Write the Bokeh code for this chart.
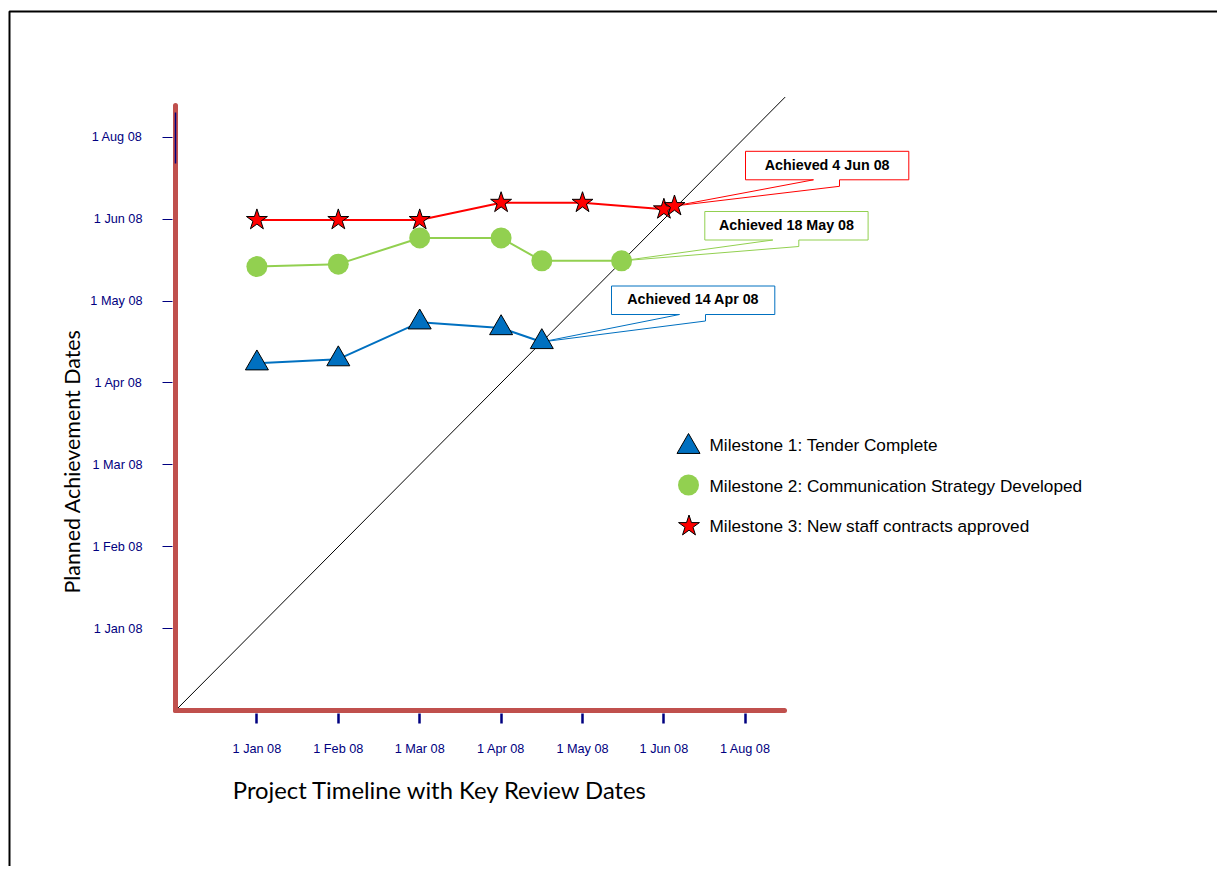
from bokeh.plotting import figure
from bokeh.models import LinearAxis, FixedTicker, Range1d
from bokeh.core.properties import value
from bokeh.embed import file_html
from bokeh.resources import INLINE

# ---------------- data ----------------
TICK_POS = [1, 2, 3, 4, 5, 6, 7]
TICK_LABELS = ["1 Jan 08", "1 Feb 08", "1 Mar 08", "1 Apr 08", "1 May 08", "1 Jun 08", "1 Aug 08"]

M1_NAME = "Milestone 1: Tender Complete"
M1_X = [1.0, 2.0, 3.0, 4.0, 4.5]
M1_Y = [4.24, 4.29, 4.74, 4.67, 4.50]

M2_NAME = "Milestone 2: Communication Strategy Developed"
M2_X = [1.0, 2.0, 3.0, 4.0, 4.5, 5.48]
M2_Y = [5.42, 5.45, 5.77, 5.77, 5.49, 5.49]

M3_NAME = "Milestone 3: New staff contracts approved"
M3_X = [1.0, 2.0, 3.0, 4.0, 5.0, 6.0, 6.13]
M3_Y = [5.99, 5.99, 5.99, 6.20, 6.20, 6.12, 6.16]

ACHIEVED = ["Achieved 14 Apr 08", "Achieved 18 May 08", "Achieved 4 Jun 08"]
DIAG = [0.0, 7.49]

# ---------------- styles ----------------
AXIS_RED = "#C0504D"
NAVY = "#000080"
BLUE = "#0070C0"
GREEN = "#92D050"
RED = "#FF0000"
FONT = value("Liberation Sans")

W, H = 1217, 866
OFF = 0                      # page offset of the canvas
PX0, PY0 = 175.0, 710.0      # page position of the origin
SX, SY = 81.4, 81.9          # pixels per unit


def X(px):
    return (px - PX0) / SX


def Y(py):
    return (PY0 - py) / SY


p = figure(width=W, height=H, x_range=Range1d(X(OFF), X(OFF + W)), y_range=Range1d(Y(OFF + H), Y(OFF)),
           min_border=0, x_axis_location=None, y_axis_location=None,
           toolbar_location=None, output_backend="svg", outline_line_color=None)
p.grid.visible = False
p.background_fill_color = "white"
p.border_fill_color = "white"

# frame border (top + left)
p.line([X(9), X(9), X(OFF + W)], [Y(OFF + H), Y(11), Y(11)], line_color="black", line_width=2)

# axes
labels = dict(zip(TICK_POS, TICK_LABELS))
yax = LinearAxis(fixed_location=0, bounds=(0, Y(104.5)), ticker=FixedTicker(ticks=TICK_POS),
                 major_label_overrides=labels)
yax.axis_line_color = AXIS_RED
yax.axis_line_width = 5
yax.axis_line_cap = "round"
yax.major_tick_in = -3
yax.major_tick_out = 13
yax.major_tick_line_color = NAVY
yax.major_tick_line_width = 1.2
yax.minor_tick_line_color = None
yax.major_label_text_font = "Liberation Sans"
yax.major_label_text_font_size = "12.7px"
yax.major_label_text_color = NAVY
yax.major_label_standoff = 20
p.add_layout(yax, "left")

xax = LinearAxis(fixed_location=0, bounds=(0, X(783.5)), ticker=FixedTicker(ticks=TICK_POS),
                 major_label_overrides=labels)
xax.axis_line_color = AXIS_RED
xax.axis_line_width = 5
xax.axis_line_cap = "round"
xax.major_tick_in = -3
xax.major_tick_out = 13
xax.major_tick_line_color = NAVY
xax.major_tick_line_width = 2.5
xax.minor_tick_line_color = None
xax.major_label_text_font = "Liberation Sans"
xax.major_label_text_font_size = "12.7px"
xax.major_label_text_color = NAVY
xax.major_label_standoff = 18
p.add_layout(xax, "below")

# small navy mark at the top of the y axis
seg = p.segment(x0=[0], y0=[Y(112)], x1=[0], y1=[Y(163)], line_color=NAVY, line_width=1.5)
seg.level = "overlay"

# axis titles
p.text(x=[X(440)], y=[Y(789.5)], text=["Project Timeline with Key Review Dates"],
       text_font=value("Lato"), text_font_size="23.8px", text_color="black",
       text_align="center", text_baseline="middle")
p.text(x=[X(71)], y=[Y(461)], text=["Planned Achievement Dates"], angle=1.5707963,
       text_font=value("Lato"), text_font_size="21.4px", text_color="black",
       text_align="center", text_baseline="middle")

# on-time diagonal
p.line(DIAG, DIAG, line_color="black", line_width=1)

# callouts (box position in page px, pointer to the achieved point)
BOX_W, BOX_H = 163.3, 28.5


def callout(left, top, tip_x, tip_y, color, label):
    bottom = top + BOX_H
    right = left + BOX_W
    xs = [X(left), X(right), X(right), X(left + 94), X(left + 94), tip_x, X(left + 68), X(left)]
    ys = [Y(top), Y(top), Y(bottom), Y(bottom), Y(bottom + 6.5), tip_y, Y(bottom), Y(bottom)]
    p.patch(xs, ys, fill_color="white", line_color=color, line_width=1)
    p.text(x=[X(left + BOX_W / 2)], y=[Y(top + 13.2)], text=[label], text_font=FONT,
           text_font_style="bold", text_font_size="14.3px", text_color="black",
           text_align="center", text_baseline="alphabetic")


callout(611.0, 285.5, M1_X[-1], M1_Y[-1], BLUE, ACHIEVED[0])
callout(704.3, 211.0, M2_X[-1], M2_Y[-1], GREEN, ACHIEVED[1])
callout(745.0, 150.8, M3_X[-1], M3_Y[-1], RED, ACHIEVED[2])

# series
p.line(M1_X, M1_Y, line_color=BLUE, line_width=2)
p.line(M2_X, M2_Y, line_color=GREEN, line_width=2)
p.line(M3_X, M3_Y, line_color=RED, line_width=2)
p.scatter(M1_X, M1_Y, marker="triangle", size=23, fill_color=BLUE, line_color="black", line_width=1)
p.scatter(M2_X, M2_Y, marker="circle", size=21, fill_color=GREEN, line_color=None)
p.scatter(M3_X, M3_Y, marker="star", size=22, fill_color=RED, line_color="black", line_width=1)

# legend (manual)
LEG_MX = 688.0
LEG_TX = 709.0
p.scatter([X(LEG_MX)], [Y(446.3)], marker="triangle", size=23, fill_color=BLUE, line_color="black", line_width=1)
p.scatter([X(LEG_MX)], [Y(484.5)], marker="circle", size=21, fill_color=GREEN, line_color=None)
p.scatter([X(LEG_MX + 0.5)], [Y(525.5)], marker="star", size=22, fill_color=RED, line_color="black", line_width=1)
p.text(x=[X(LEG_TX)] * 3, y=[Y(444.0), Y(485.0), Y(525.0)], text=[M1_NAME, M2_NAME, M3_NAME],
       text_font=FONT, text_font_size="17.2px", text_color="black",
       text_align="left", text_baseline="alphabetic")

open("out.html", "w").write(file_html(p, INLINE))
